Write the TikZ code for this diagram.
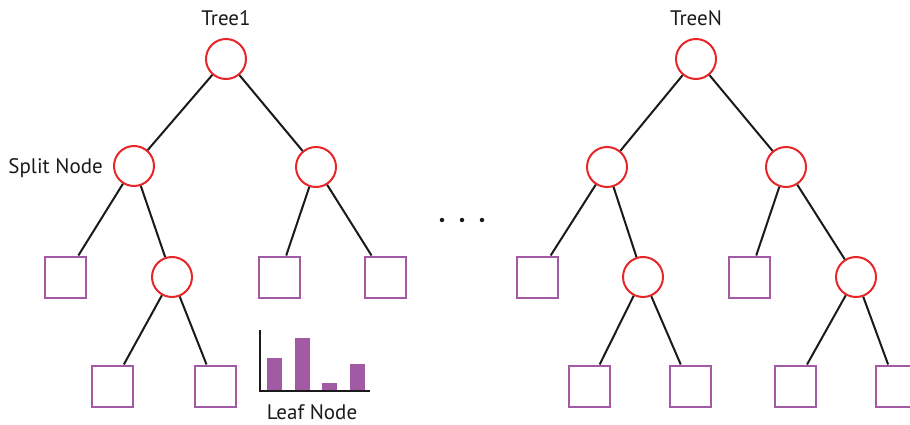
\documentclass[tikz,border=0pt]{standalone}
\usepackage{fontspec}
\setmainfont{PT Sans}
\definecolor{splitred}{RGB}{232,38,42}
\definecolor{leafpurple}{RGB}{163,90,165}
\definecolor{edgeblack}{RGB}{26,26,26}
\tikzset{
  splitnode/.style={circle, draw=splitred, line width=2pt, minimum size=40pt, inner sep=0pt},
  leafbox/.style={rectangle, draw=leafpurple, line width=2pt, minimum size=41pt, inner sep=0pt},
  branch/.style={draw=edgeblack, line width=2pt},
  bar/.style={fill=leafpurple, draw=none},
  lbl/.style={font=\fontsize{21}{24}\selectfont, text=edgeblack, inner sep=0pt},
  dotmark/.style={circle, fill=edgeblack, inner sep=0pt, minimum size=4.5pt}
}
\begin{document}
\begin{tikzpicture}[x=1pt, y=-1pt]
\useasboundingbox (0,0) rectangle (910,425);
\clip (0,0) rectangle (910,425);

% ---- first tree ----
\node[lbl] (t1) at (226,18) {Tree1};
\node[splitnode] (a) at (226,59) {};
\node[splitnode] (b) at (134,166) {};
\node[splitnode] (c) at (316,167) {};
\node[leafbox] (b1) at (65,277) {};
\node[splitnode] (b2) at (172,277) {};
\node[leafbox] (b21) at (112,386) {};
\node[leafbox] (b22) at (215,386) {};
\node[leafbox] (c1) at (279,277) {};
\node[leafbox] (c2) at (385,277) {};
\path[branch] (a) -- (b) (a) -- (c)
  (b) -- (b1) (b) -- (b2) (b2) -- (b21) (b2) -- (b22)
  (c) -- (c1) (c) -- (c2);
\node[lbl, anchor=east] (splitlbl) at (103,168) {Split Node};

% ---- leaf histogram ----
\fill[bar] (267,391) rectangle (282,358);
\fill[bar] (295,391) rectangle (310,338);
\fill[bar] (322,391) rectangle (337,383);
\fill[bar] (350,391) rectangle (365,364);
\draw[edgeblack, line width=2pt] (260,330) -- (260,391) -- (370,391);
\node[lbl] (leaflbl) at (312,412) {Leaf Node};

% ---- ellipsis ----
\node[dotmark] (d1) at (442,220) {};
\node[dotmark] (d2) at (462,220) {};
\node[dotmark] (d3) at (482,220) {};

% ---- last tree ----
\node[lbl] (tn) at (696,18) {TreeN};
\node[splitnode] (p) at (696,59) {};
\node[splitnode] (q) at (607,167) {};
\node[splitnode] (r) at (786,167) {};
\node[leafbox] (q1) at (537,277) {};
\node[splitnode] (q2) at (643,277) {};
\node[leafbox] (q21) at (589,386) {};
\node[leafbox] (q22) at (690,386) {};
\node[leafbox] (r1) at (749,277) {};
\node[splitnode] (r2) at (856,277) {};
\node[leafbox] (r21) at (795,386) {};
\node[leafbox] (r22) at (896,386) {};
\path[branch] (p) -- (q) (p) -- (r)
  (q) -- (q1) (q) -- (q2) (q2) -- (q21) (q2) -- (q22)
  (r) -- (r1) (r) -- (r2) (r2) -- (r21) (r2) -- (r22);
\end{tikzpicture}
\end{document}
